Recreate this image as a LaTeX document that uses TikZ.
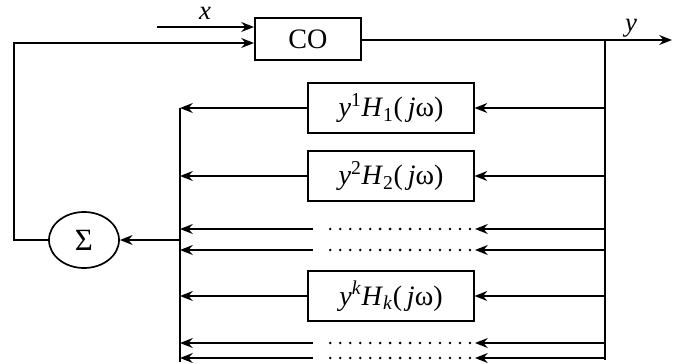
\documentclass[tikz,border=0pt]{standalone}
\usepackage{fontspec}
\setmainfont{Liberation Serif}
\usetikzlibrary{arrows.meta,positioning,calc,shapes.geometric}
\newcommand{\hlab}[2]{\textit{y}\textsuperscript{#1}\textit{H}\textsubscript{#2}(\,\textit{j}ω)}
\tikzset{
  blk/.style={draw,line width=1.4pt,minimum width=4.125cm,minimum height=1.25cm,inner sep=0pt},
  sumnode/.style={draw,ellipse,line width=1.2pt,minimum width=1.75cm,minimum height=1.4cm,inner sep=0pt},
  arr/.style={line width=1.4pt,-{Stealth[length=9pt,width=7pt]}},
  ln/.style={line width=1.4pt},
  dots/.style={line width=2pt,line cap=round,dash pattern=on 0pt off 7.1pt},
  varlab/.style={font=\fontsize{19}{22}\itshape,inner sep=0pt,anchor=base}
}

\begin{document}
\begin{tikzpicture}[x=0.025cm,y=-0.025cm,font=\fontsize{20}{24}\selectfont]
  \useasboundingbox (0,0) rectangle (677,363);
  % forward path
  \node[blk,minimum width=2.65cm,minimum height=1.05cm] (co) at (308,39) {CO};
  \node[sumnode] (sum) at (84,240) {\fontsize{22}{24}\selectfont Σ};
  \coordinate (xin) at (157,27);
  \coordinate (tap) at (605,40);
  \coordinate (yout) at (672,40);
  \node[varlab] (xlab) at (205,19) {x};
  \node[varlab] (ylab) at (631,31) {y};
  \draw[arr] (xin) -- (xin -| co.west);
  \draw[arr] (co.east |- tap) -- (yout);

  % feedback to CO
  \coordinate (fbl) at (14,240);
  \coordinate (fbt) at (14,43);
  \draw[arr] (sum.west) -- (fbl) -- (fbt) -- (fbt -| co.west);

  % buses
  \coordinate (rbot) at (605,360);
  \coordinate (ltop) at (180,108);
  \coordinate (lbot) at (180,362);
  \coordinate (lmid) at (180,240);
  \draw[ln] (tap) -- (rbot);
  \draw[ln] (ltop) -- (lbot);
  \draw[arr] (lmid) -- (sum.east);

  % filter blocks
  \foreach \k/\sup/\sub/\y in {1/1/1/108,2/2/2/176,3/\textit{k}/\textit{k}/296}{
    \node[blk] (h\k) at (391,\y) {\hlab{\sup}{\sub}};
    \coordinate (r\k) at (605,\y);
    \coordinate (l\k) at (180,\y);
    \draw[arr] (r\k) -- (h\k.east);
    \draw[arr] (h\k.west) -- (l\k);
  }

  % omitted branches
  \foreach \i/\y in {a/229,b/250,c/343,d/358}{
    \coordinate (r\i) at (605,\y);
    \coordinate (m\i) at (475,\y);
    \coordinate (s\i) at (470,\y);
    \coordinate (t\i) at (325,\y);
    \coordinate (u\i) at (313,\y);
    \coordinate (l\i) at (180,\y);
    \draw[arr] (r\i) -- (m\i);
    \draw[dots] (s\i) -- (t\i);
    \draw[arr] (u\i) -- (l\i);
  }
\end{tikzpicture}
\end{document}
